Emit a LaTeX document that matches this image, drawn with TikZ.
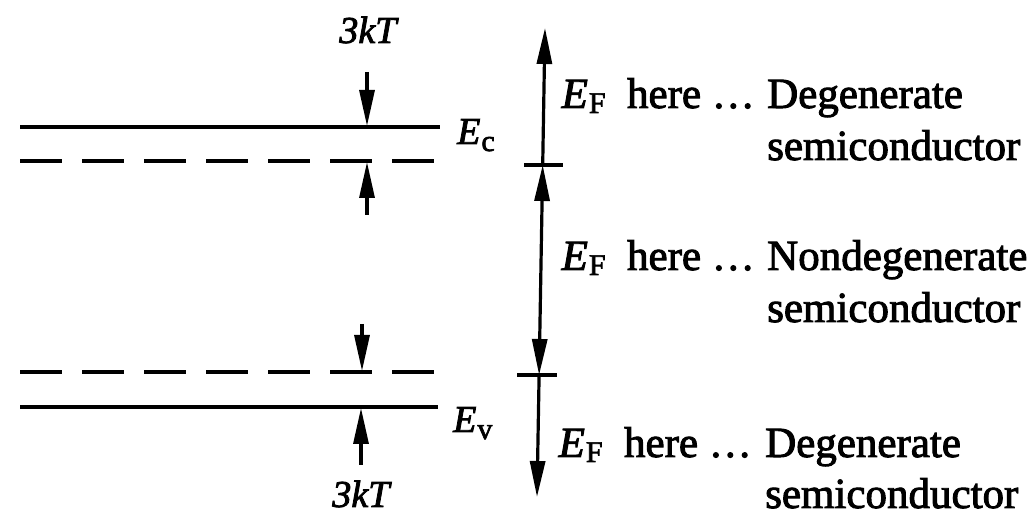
\documentclass[tikz,border=0pt]{standalone}
\usepackage{fontspec}
\setmainfont{Liberation Serif}
\newfontfamily\heavy{Liberation Serif}[FakeBold=2.2]
\usetikzlibrary{arrows.meta}
\tikzset{
  lvl/.style={line width=3.8pt},
  lvldash/.style={line width=3.2pt, dash pattern=on 42pt off 20pt},
  headtip/.tip={Triangle[length=36pt,width=15pt]},
  dimarrow/.style={line width=3.2pt, -headtip},
  axis/.style={line width=3.2pt},
  txt/.style={font=\heavy\fontsize{43}{52}\selectfont, inner sep=0pt},
  lbl/.style={font=\heavy\fontsize{38}{46}\selectfont, inner sep=0pt},
}
\newcommand{\EF}{\textit{E}\kern1pt\raisebox{-5pt}{\fontsize{30}{30}\selectfont F}}
\begin{document}
\begin{tikzpicture}[x=1pt,y=-1pt]
\useasboundingbox (0,0) rectangle (1029,518);
% band levels
\coordinate (ecl) at (20,127); \coordinate (ecr) at (440,127);
\coordinate (dcl) at (20,161); \coordinate (dcr) at (445,161);
\coordinate (dvl) at (20,372); \coordinate (dvr) at (440,372);
\coordinate (evl) at (20,407); \coordinate (evr) at (438,407);
\draw[lvl] (ecl) -- (ecr);
\draw[lvldash] (dcl) -- (dcr);
\draw[lvldash] (dvl) -- (dvr);
\draw[lvl] (evl) -- (evr);
% 3kT markers
\coordinate (a1s) at (367,72);  \coordinate (a1e) at (367,126);
\coordinate (a2s) at (367,215); \coordinate (a2e) at (367,162);
\coordinate (a3s) at (362,324); \coordinate (a3e) at (362,371);
\coordinate (a4s) at (361,465); \coordinate (a4e) at (361,408);
\draw[dimarrow] (a1s) -- (a1e);
\draw[dimarrow] (a2s) -- (a2e);
\draw[dimarrow] (a3s) -- (a3e);
\draw[dimarrow] (a4s) -- (a4e);
\node[lbl, anchor=base] (kt1) at (369,43) {\textit{3kT}};
\node[lbl, anchor=base] (kt2) at (362,507) {\textit{3kT}};
\node[lbl, anchor=base west] (ec) at (457,144) {\textit{E}\kern1pt\raisebox{-7pt}{\fontsize{30}{30}\selectfont c}};
\node[lbl, anchor=base west] (ev) at (453,432) {\textit{E}\kern1pt\raisebox{-7pt}{\fontsize{30}{30}\selectfont v}};
% vertical axis
\coordinate (top) at (545,28);
\coordinate (t1) at (542.7,165);
\coordinate (t2) at (539.1,375);
\coordinate (bot) at (537,497);
\coordinate (t1l) at (524,165); \coordinate (t1r) at (563,165);
\coordinate (t2l) at (517,375); \coordinate (t2r) at (557,375);
\draw[axis, -headtip] (t1) -- (top);
\draw[axis, headtip-headtip] (t1) -- (t2);
\draw[axis, -headtip] (t2) -- (bot);
\draw[axis] (t1l) -- (t1r);
\draw[axis] (t2l) -- (t2r);
% texts
\node[txt, anchor=base east] (h1) at (755,108) {\EF\ \ here \dots};
\node[txt, anchor=base west] (d1) at (767,108) {Degenerate};
\node[txt, anchor=base west] (s1) at (767,160) {semiconductor};
\node[txt, anchor=base east] (h2) at (755,270) {\EF\ \ here \dots};
\node[txt, anchor=base west] (d2) at (767,270) {Nondegenerate};
\node[txt, anchor=base west] (s2) at (767,322) {semiconductor};
\node[txt, anchor=base east] (h3) at (752,457) {\EF\ \ here \dots};
\node[txt, anchor=base west] (d3) at (765,457) {Degenerate};
\node[txt, anchor=base west] (s3) at (765,508) {semiconductor};
\end{tikzpicture}
\end{document}
